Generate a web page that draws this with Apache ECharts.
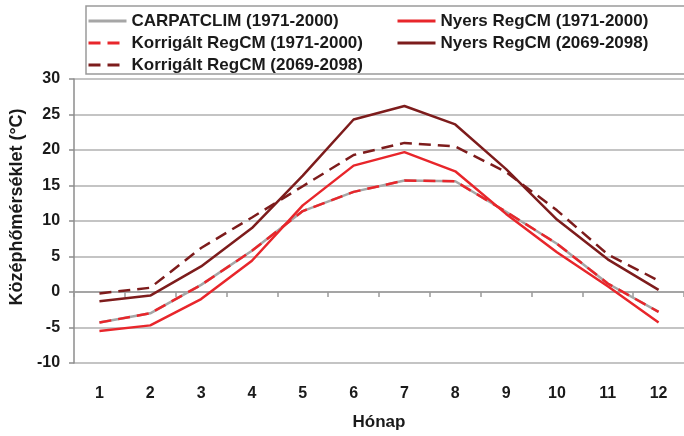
<!DOCTYPE html>
<html>
<head>
<meta charset="utf-8">
<script src="https://cdn.jsdelivr.net/npm/echarts@6/dist/echarts.min.js"></script>
<style>
  html, body { margin: 0; padding: 0; background: #ffffff; }
  #chart { width: 684px; height: 436px; }
</style>
</head>
<body>
<div id="chart"></div>
<script>
// Havi középhőmérséklet (°C), 1–12. hónap
const months = ['1', '2', '3', '4', '5', '6', '7', '8', '9', '10', '11', '12'];
const yTicks = [-10, -5, 0, 5, 10, 15, 20, 25, 30];

const carpatclim     = [-4.3, -3.0, 1.0, 5.8, 11.4, 14.1, 15.7, 15.6, 11.3, 6.8, 1.2, -2.8];
const korrigalt7100  = [-4.3, -3.0, 1.0, 5.8, 11.4, 14.1, 15.7, 15.6, 11.3, 6.8, 1.2, -2.8];
const nyers7100      = [-5.5, -4.7, -1.0, 4.4, 12.2, 17.8, 19.7, 17.0, 11.0, 5.6, 0.8, -4.3];
const nyers6998      = [-1.3, -0.5, 3.6, 9.0, 16.4, 24.3, 26.2, 23.6, 17.3, 10.2, 4.6, 0.3];
const korrigalt6998  = [-0.2, 0.6, 6.2, 10.5, 14.9, 19.3, 21.0, 20.5, 16.9, 11.5, 5.3, 1.6];

const names = {
  carp: 'CARPATCLIM (1971-2000)',
  k71: 'Korrigált RegCM (1971-2000)',
  k69: 'Korrigált RegCM (2069-2098)',
  n71: 'Nyers RegCM (1971-2000)',
  n69: 'Nyers RegCM (2069-2098)'
};

const GRAY = '#a6a6a6';
const RED = '#e8262b';
const DARK = '#7d1c1c';
const FONT = 'Liberation Sans, Arial, sans-serif';
const DASH = [12, 7];

const chart = echarts.init(document.getElementById('chart'), null, { renderer: 'canvas' });

function lineSeries(name, data, color, dashed, z) {
  return {
    name: name,
    type: 'line',
    data: data,
    xAxisIndex: 0,
    symbol: 'none',
    z: z,
    animation: false,
    lineStyle: { color: color, width: 2.5, type: dashed ? DASH : 'solid', cap: 'butt' },
    itemStyle: { color: color }
  };
}

// legend keys: plain line samples, no marker
const legendCommon = {
  orient: 'vertical',
  padding: 0,
  itemWidth: 38,
  itemHeight: 16,
  itemGap: 5,
  selectedMode: false,
  itemStyle: { opacity: 0 },
  lineStyle: { width: 3 },
  textStyle: { fontFamily: FONT, fontWeight: 'bold', fontSize: 17, color: '#1a1a1a', lineHeight: 16 }
};

chart.setOption({
  animation: false,
  backgroundColor: '#ffffff',
  textStyle: { fontFamily: FONT },
  grid: { left: 72, top: 79, width: 617, height: 284, containLabel: false },
  legend: [
    Object.assign({}, legendCommon, { left: 87, top: 12.5, data: [names.carp, names.k71, names.k69] }),
    Object.assign({}, legendCommon, { left: 396, top: 12.5, data: [names.n71, names.n69] })
  ],
  graphic: [{
    type: 'rect',
    shape: { x: 86, y: 6, width: 620, height: 68 },
    style: { fill: 'none', stroke: '#9a9a9a', lineWidth: 1.5 },
    silent: true
  }],
  xAxis: [
    {
      // axis line crossing at 0 °C with tick marks between months
      type: 'category',
      data: months,
      boundaryGap: true,
      axisLine: { onZero: true, lineStyle: { color: '#9a9a9a', width: 1.5 } },
      axisTick: { show: true, length: 5, inside: false, lineStyle: { color: '#9a9a9a', width: 1.5 } },
      axisLabel: { show: false },
      splitLine: { show: false }
    },
    {
      // month labels and axis title along the bottom
      type: 'category',
      data: months,
      position: 'bottom',
      boundaryGap: true,
      axisLine: { show: false, onZero: false },
      axisTick: { show: false },
      axisLabel: { margin: 23, fontFamily: FONT, fontWeight: 'bold', fontSize: 16, color: '#1a1a1a' },
      name: 'Hónap',
      nameLocation: 'middle',
      nameGap: 51,
      nameTextStyle: { fontFamily: FONT, fontWeight: 'bold', fontSize: 17, color: '#1a1a1a' }
    }
  ],
  yAxis: {
    type: 'value',
    min: yTicks[0],
    max: yTicks[yTicks.length - 1],
    interval: 5,
    axisLine: { show: true, lineStyle: { color: '#8c8c8c', width: 1.5 } },
    axisTick: { show: true, length: 5, lineStyle: { color: '#8c8c8c', width: 1.5 } },
    splitLine: { show: true, lineStyle: { color: '#b0b0b0', width: 1.5 } },
    axisLabel: { margin: 14, fontFamily: FONT, fontWeight: 'bold', fontSize: 16, color: '#1a1a1a' },
    name: 'Középhőmérséklet (°C)',
    nameLocation: 'middle',
    nameGap: 44,
    nameTextStyle: { fontFamily: FONT, fontWeight: 'bold', fontSize: 18, color: '#1a1a1a', padding: [0, 0, 0, 28] }
  },
  series: [
    lineSeries(names.carp, carpatclim, GRAY, false, 2),
    lineSeries(names.k71, korrigalt7100, RED, true, 3),
    lineSeries(names.k69, korrigalt6998, DARK, true, 3),
    lineSeries(names.n71, nyers7100, RED, false, 4),
    lineSeries(names.n69, nyers6998, DARK, false, 4)
  ]
});
</script>
</body>
</html>
